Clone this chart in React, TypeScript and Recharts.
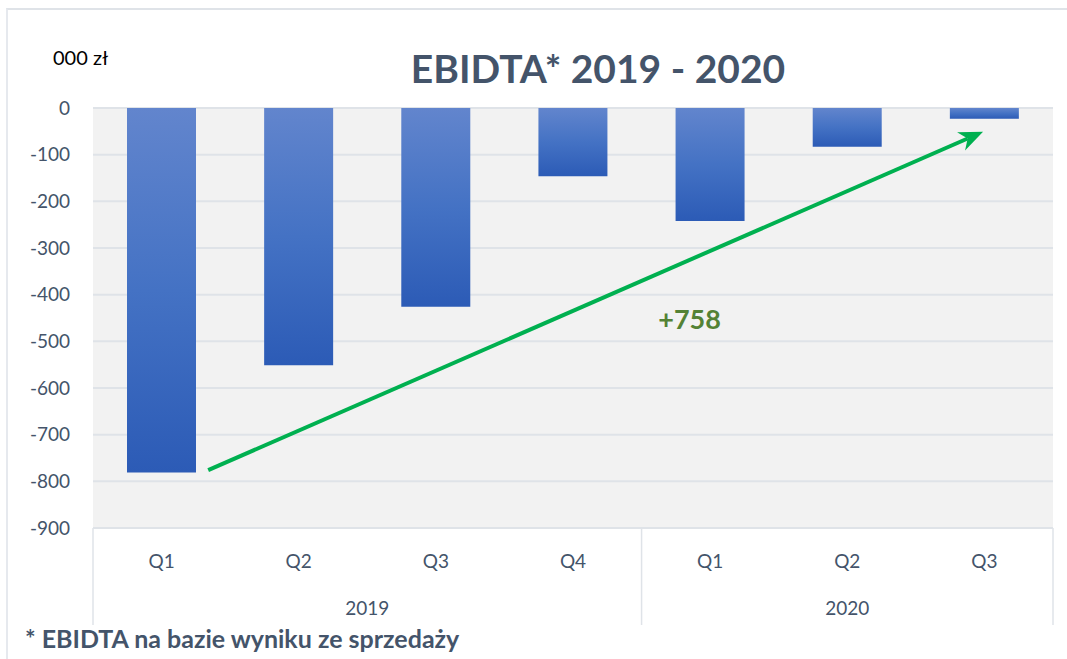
import React from "react";
import {
  Bar,
  BarChart,
  CartesianGrid,
  ReferenceDot,
  ReferenceLine,
  XAxis,
  YAxis,
} from "recharts";

// dane (tys. zł)
const quarters = ["Q1", "Q2", "Q3", "Q4", "Q1", "Q2", "Q3"];
const years = ["2019", "2019", "2019", "2019", "2020", "2020", "2020"];
const ebitda = [-781, -551, -426, -146, -242, -83, -23];
const yTicks = [0, -100, -200, -300, -400, -500, -600, -700, -800, -900];

// podpisy lat i granice grup na osi (pozycja w kategoriach)
const yearLabels = ["2019", "2020"];
const yearCenters = [2, 5.5];
const groupBounds = [0, 4, 7];

// strzałka trendu i jej opis
const arrowFrom = { x: 0.84, y: -776 };
const arrowTo = { x: 6.49, y: -51 };
const changeLabel = "+758";
const changeAt = { x: 4.35, y: -454 };

const data = quarters.map((q, i) => ({
  q,
  year: years[i],
  value: ebitda[i],
  pos: i + 0.5,
}));

const FONT = "Lato, 'Noto Sans', sans-serif";
const SLATE = "#44546a";

const Arrow = (props: any) => {
  const { x1, y1, x2, y2 } = props;
  const dx = x2 - x1;
  const dy = y2 - y1;
  const len = Math.sqrt(dx * dx + dy * dy);
  const ux = dx / len;
  const uy = dy / len;
  const head = 24;
  const half = 10;
  const bx = x2 - ux * head;
  const by = y2 - uy * head;
  const nx = -uy;
  const ny = ux;
  const notchX = x2 - ux * head * 0.7;
  const notchY = y2 - uy * head * 0.7;
  return (
    <g>
      <line x1={x1} y1={y1} x2={notchX} y2={notchY} stroke="#00b050" strokeWidth={4} />
      <polygon
        points={`${x2},${y2} ${bx + nx * half},${by + ny * half} ${notchX},${notchY} ${bx - nx * half},${by - ny * half}`}
        fill="#00b050"
      />
    </g>
  );
};

const GroupLine = (props: any) => {
  const { x1, y1, y2 } = props;
  const bottom = Math.max(y1, y2);
  return <line x1={x1} y1={bottom} x2={x1} y2={bottom + 97} stroke="#dfe3e8" strokeWidth={1.5} />;
};

export default function App() {
  return (
    <div style={{ position: "absolute", left: 0, top: 0, width: 1067, height: 659, background: "#fff", fontFamily: FONT }}>
      <div
        style={{
          position: "absolute",
          left: 6,
          top: 8,
          width: 1080,
          height: 700,
          borderTop: "2px solid #dfe3e8",
          borderLeft: "2px solid #e6e9ee",
        }}
      />
      <div style={{ position: "absolute", left: 53, top: 45, fontSize: 20, lineHeight: "24px", color: "#000" }}>000 zł</div>
      <div
        style={{
          position: "absolute",
          left: 348,
          width: 500,
          top: 44,
          textAlign: "center",
          fontSize: 39,
          lineHeight: "48px",
          fontWeight: 700,
          color: SLATE,
        }}
      >
        EBIDTA* 2019 - 2020
      </div>
      <div style={{ position: "absolute", left: 25, top: 623, fontSize: 25, lineHeight: "30px", fontWeight: 700, color: SLATE }}>
        * EBIDTA na bazie wyniku ze sprzedaży
      </div>
      <div style={{ position: "absolute", left: 0, top: 0 }}>
        <BarChart width={1067} height={659} data={data} margin={{ top: 108, right: 14, bottom: 34, left: 0 }}>
          <defs>
            <linearGradient id="barGrad" x1="0" y1="0" x2="0" y2="1">
              <stop offset="0%" stopColor="#6285cd" />
              <stop offset="50%" stopColor="#4472c4" />
              <stop offset="100%" stopColor="#2c5bb6" />
            </linearGradient>
          </defs>
          <CartesianGrid vertical={false} stroke="#dfe3e8" strokeWidth={2} fill="#f2f2f2" />
          <XAxis
            dataKey="q"
            axisLine={false}
            tickLine={false}
            height={48}
            tickMargin={21}
            tick={{ fill: SLATE, fontSize: 19, fontFamily: FONT }}
          />
          <XAxis
            xAxisId="yr"
            type="number"
            dataKey="pos"
            domain={[0, 7]}
            allowDataOverflow
            ticks={yearCenters}
            tickFormatter={(v: number) => yearLabels[yearCenters.indexOf(v)]}
            axisLine={false}
            tickLine={false}
            height={49}
            tickMargin={20}
            tick={{ fill: SLATE, fontSize: 19, fontFamily: FONT }}
          />
          <YAxis
            width={93}
            domain={[-900, 0]}
            ticks={yTicks}
            interval={0}
            axisLine={false}
            tickLine={false}
            tickSize={0}
            tickMargin={23}
            tick={{ fill: SLATE, fontSize: 19, fontFamily: FONT }}
          />
          <Bar dataKey="value" fill="url(#barGrad)" barSize={69} isAnimationActive={false} />
          {groupBounds.map((b) => (
            <ReferenceLine key={b} xAxisId="yr" x={b} shape={GroupLine} />
          ))}
          <ReferenceLine
            xAxisId="yr"
            segment={[arrowFrom, arrowTo]}
            shape={Arrow}
            ifOverflow="visible"
          />
          <ReferenceDot
            xAxisId="yr"
            x={changeAt.x}
            y={changeAt.y}
            r={0}
            stroke="none"
            fill="none"
            label={{ value: changeLabel, position: "center", fill: "#548235", fontSize: 27, fontWeight: 700, fontFamily: FONT }}
          />
        </BarChart>
      </div>
    </div>
  );
}
